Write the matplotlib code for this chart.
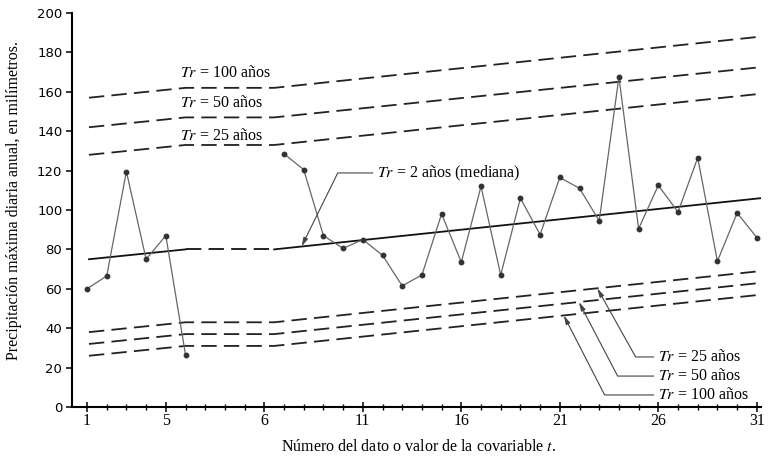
import numpy as np
import matplotlib
matplotlib.use("Agg")
import matplotlib.pyplot as plt

plt.rcParams['mathtext.fontset'] = 'stix'
plt.rcParams['font.family'] = ['Liberation Serif', 'DejaVu Serif']

# ---- data ----
t_seg1 = [1, 2, 3, 4, 5, 6]
p_seg1 = [60, 66.5, 119.5, 75, 87, 26.5]
t_seg2 = list(range(11, 36))
p_seg2 = [128.5, 120.5, 87, 80.5, 85, 77, 61.5, 67, 98, 73.5, 112, 67, 106,
          87.5, 116.5, 111, 94.5, 167.5, 90.5, 112.5, 99, 126.5, 74, 98.5, 86]

trend_t = [1.1, 6, 10.5, 35.2]
median = [75, 80, 80, 106]
up100 = [157, 162, 162, 188]
up50 = [142, 147, 147, 172.5]
up25 = [128, 133, 133, 159]
lo25 = [38, 43, 43, 69]
lo50 = [32, 37, 37, 63]
lo100 = [26, 31, 31, 57]

xtick_pos = [1, 5, 10, 15, 20, 25, 30, 35]
xtick_labels = ['1', '5', '6', '11', '16', '21', '26', '31']
yticks = list(range(0, 201, 20))

# ---- figure ----
fig = plt.figure(figsize=(7.83, 4.59), dpi=100)
ax = fig.add_axes([0.092, 0.1133, 0.8796, 0.8584])
ax.set_xlim(0.24, 35.2)
ax.set_ylim(0, 200)

dash = (8.5, 4)
lc = '#222222'
for s in (up100, up50, up25, lo25, lo50, lo100):
    ax.plot(trend_t, s, color=lc, lw=1.3, dashes=dash)

# median: solid - dashed - solid
ax.plot(trend_t[:2], median[:2], color='#111111', lw=1.3)
ax.plot(trend_t[1:3], median[1:3], color='#111111', lw=1.3, dashes=dash)
ax.plot(trend_t[2:], median[2:], color='#111111', lw=1.3)

# observed data
for tt, pp in ((t_seg1, p_seg1), (t_seg2, p_seg2)):
    ax.plot(tt, pp, color='#666666', lw=0.9, marker='o', ms=3.2,
            mfc='#333333', mec='#333333', zorder=3)

# ---- axes styling ----
for side in ('top', 'right'):
    ax.spines[side].set_visible(False)
for side in ('left', 'bottom'):
    ax.spines[side].set_linewidth(1.5)
ax.set_xticks(xtick_pos)
ax.set_xticklabels(xtick_labels, fontsize=11.5, family='Liberation Serif')
ax.set_xticks(range(1, 36), minor=True)
ax.set_yticks(yticks)
ax.set_yticklabels([str(v) for v in yticks], fontsize=9.5, family='DejaVu Sans')
ax.tick_params(axis='x', which='major', direction='inout', length=6.5, width=1.1, pad=1)
ax.tick_params(axis='x', which='minor', direction='inout', length=4, width=1)
ax.tick_params(axis='y', which='major', direction='out', length=4, width=1.1, pad=3)

# ---- labels ----
fs = 11.5
fig.text(14 / 783, 1 - 201 / 459, 'Precipitación máxima diaria anual, en milímetros.',
         rotation=90, ha='center', va='center', fontsize=fs)
fig.text(418 / 783, 1 - 447 / 459, 'Número del dato o valor de la covariable $t$.',
         ha='center', va='center', fontsize=fs)

ax.text(5.72, 169.5, '$Tr$ = 100 años', ha='left', va='center', fontsize=fs)
ax.text(5.72, 154.3, '$Tr$ = 50 años', ha='left', va='center', fontsize=fs)
ax.text(5.72, 137.6, '$Tr$ = 25 años', ha='left', va='center', fontsize=fs)


def leader(text, txy, target_t, series, angle):
    ty = np.interp(target_t, trend_t, series)
    ax.annotate(text, xy=(target_t, ty), xytext=txy, textcoords='data',
                ha='left', va='center', fontsize=fs,
                arrowprops=dict(arrowstyle='-|>,head_length=0.45,head_width=0.12',
                                color='#444444', lw=0.8,
                                connectionstyle=f'angle,angleA=0,angleB={angle},rad=0',
                                relpos=(0, 0.5), shrinkA=1, shrinkB=0))


leader('$Tr$ = 2 años (mediana)', (15.72, 118.8), 11.89, median, 63.8)
leader('$Tr$ = 25 años', (29.98, 25.4), 26.9, lo25, 119.2)
leader('$Tr$ = 50 años', (29.98, 15.7), 25.97, lo50, 117.6)
leader('$Tr$ = 100 años', (29.98, 6.1), 25.2, lo100, 117.2)

fig.savefig('out.png', dpi=100)
